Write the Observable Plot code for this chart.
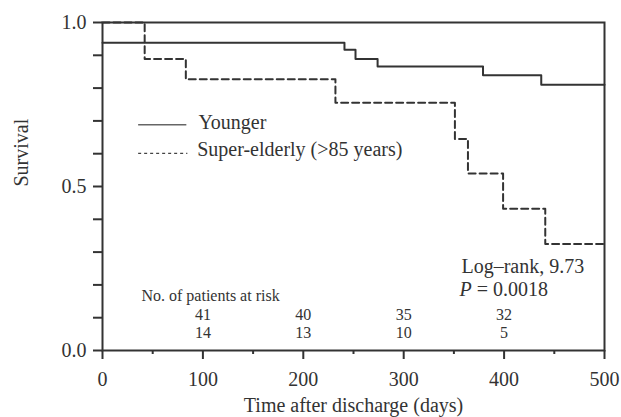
<!DOCTYPE html>
<html><head><meta charset="utf-8">
<script src="https://cdn.jsdelivr.net/npm/d3@7"></script>
<script src="https://cdn.jsdelivr.net/npm/@observablehq/plot@0.6"></script>
<style>body{margin:0;background:#fff}</style>
</head><body><div id="chart"></div>
<script>
// Kaplan–Meier step data
const youngerDays = [0, 241, 252, 274, 379, 437, 500];
const youngerSurv = [0.938, 0.917, 0.889, 0.866, 0.839, 0.81, 0.81];
const elderlyDays = [0, 42, 83, 232, 351, 364, 399, 441, 500];
const elderlySurv = [1.0, 0.889, 0.827, 0.755, 0.645, 0.54, 0.432, 0.325, 0.325];
// Patients at risk
const riskDays = [100, 200, 300, 400];
const riskYounger = [41, 40, 35, 32];
const riskElderly = [14, 13, 10, 5];
// Ticks
const xMajorTicks = [0, 100, 200, 300, 400, 500];
const xMinorTicks = [50, 150, 250, 350, 450];
const yTicks = [0, 0.1, 0.2, 0.3, 0.4, 0.5, 0.6, 0.7, 0.8, 0.9, 1.0];
const yLabeledTicks = [0, 0.5, 1.0];
const seriesNames = ["Younger", "Super-elderly (>85 years)"];
const statLines = ["Log–rank, 9.73", "P = 0.0018"];
const riskTitle = "No. of patients at risk";
const xTitle = "Time after discharge (days)";
const yTitle = "Survival";

const ink = "#333";
const font = "'Liberation Serif', 'Times New Roman', serif";

const younger = youngerDays.map((d, i) => ({day: d, surv: youngerSurv[i]}));
const elderly = elderlyDays.map((d, i) => ({day: d, surv: elderlySurv[i]}));
const riskRows = riskDays.flatMap((d, i) => [
  {day: d, row: 0, n: riskYounger[i]},
  {day: d, row: 1, n: riskElderly[i]}
]);
const rowY = [0.093, 0.0366];

const chart = Plot.plot({
  width: 621,
  height: 417,
  marginLeft: 102,
  marginRight: 17,
  marginTop: 22,
  marginBottom: 67,
  style: {fontFamily: font, fontSize: "20px", color: ink, background: "white"},
  x: {domain: [0, 500]},
  y: {domain: [0, 1]},
  marks: [
    Plot.axisY(yTicks, {tickSize: 9, tickPadding: 7, strokeWidth: 2,
      tickFormat: d => yLabeledTicks.includes(d) ? d.toFixed(1) : "", label: null}),
    Plot.axisX(xMajorTicks, {tickSize: 9, tickPadding: 12, strokeWidth: 2, tickFormat: d => String(d), label: null}),
    Plot.axisX(xMinorTicks, {tickSize: 4, strokeWidth: 2, tickFormat: () => "", label: null}),
    Plot.frame({stroke: ink, strokeWidth: 2}),
    Plot.line(younger, {x: "day", y: "surv", curve: "step-after", stroke: ink, strokeWidth: 2}),
    Plot.line(elderly, {x: "day", y: "surv", curve: "step-after", stroke: ink, strokeWidth: 2, strokeDasharray: "7,4"}),
    // legend
    Plot.ruleY([0.688], {x1: 36, x2: 84, stroke: "#666", strokeWidth: 1.5}),
    Plot.ruleY([0.601], {x1: 36, x2: 85, stroke: "#444", strokeWidth: 1.2, strokeDasharray: "3,3"}),
    Plot.text([seriesNames[0]], {x: 95.5, y: 0.676, textAnchor: "start", lineAnchor: "bottom", fontSize: 20, fill: ink}),
    Plot.text([seriesNames[1]], {x: 94.3, y: 0.592, textAnchor: "start", lineAnchor: "bottom", fontSize: 20, fill: ink}),
    // stats
    Plot.text([statLines[0]], {x: 357.5, y: 0.236, textAnchor: "start", lineAnchor: "bottom", fontSize: 20, fill: ink}),
    Plot.text([statLines[1]], {x: 355.6, y: 0.165, textAnchor: "start", lineAnchor: "bottom", fontSize: 20, fill: ink}),
    // at risk
    Plot.text([riskTitle], {x: 38.8, y: 0.152, textAnchor: "start", lineAnchor: "bottom", fontSize: 16, fill: ink}),
    Plot.text(riskRows, {x: "day", y: d => rowY[d.row], text: d => String(d.n), textAnchor: "middle", lineAnchor: "bottom", fontSize: 16, fill: ink}),
    // titles
    Plot.text([xTitle], {frameAnchor: "bottom", dy: 61.5, lineAnchor: "bottom", fontSize: 20, fill: ink}),
    Plot.text([yTitle], {frameAnchor: "left", dx: -80.5, rotate: -90, fontSize: 20, fill: ink})
  ]
});

// italicise the P in the p-value line
chart.querySelectorAll("text").forEach(t => {
  if (t.textContent === statLines[1]) {
    t.textContent = "";
    const ns = "http://www.w3.org/2000/svg";
    const a = document.createElementNS(ns, "tspan");
    a.setAttribute("font-style", "italic");
    a.textContent = "P";
    const b = document.createElementNS(ns, "tspan");
    b.textContent = statLines[1].slice(1);
    t.appendChild(a); t.appendChild(b);
  }
});
document.getElementById("chart").appendChild(chart);
</script>
</body></html>
